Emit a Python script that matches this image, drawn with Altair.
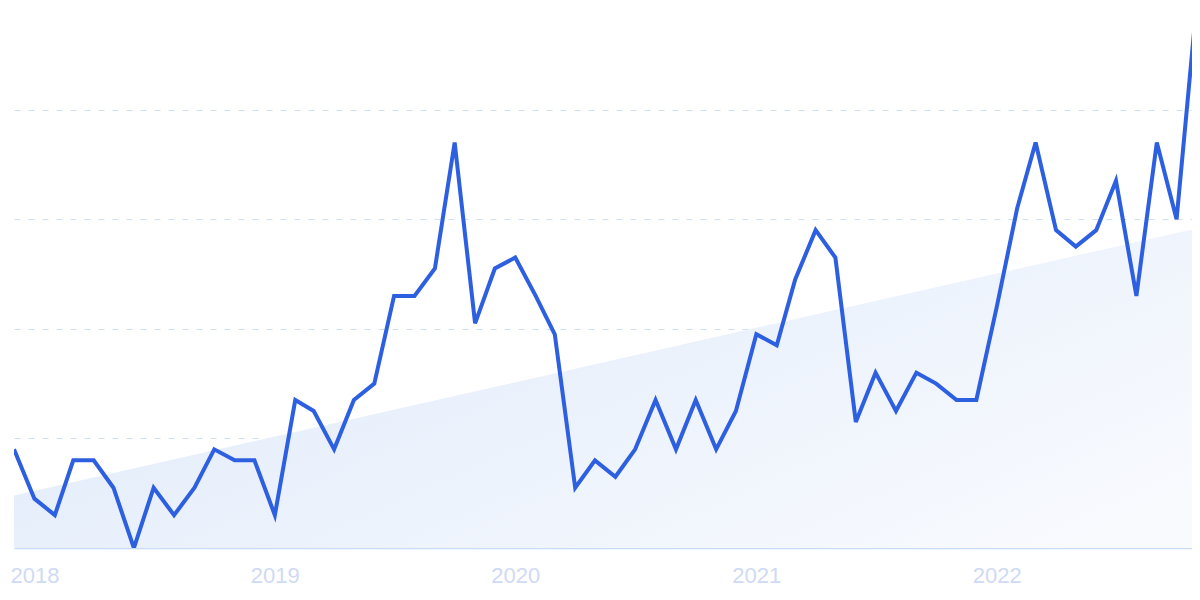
import altair as alt
import pandas as pd

# Monthly points, Dec 2017 .. Nov 2022
months = pd.date_range("2017-12-01", periods=60, freq="MS").strftime("%Y-%m-%d").tolist()
values = [18, 9, 6, 16, 16, 11, 0, 11, 6, 11, 18, 16,
          16, 6, 27, 25, 18, 27, 30, 46, 46, 51, 74, 41,
          51, 53, 46, 39, 11, 16, 13, 18, 27, 18, 27, 18,
          25, 39, 37, 49, 58, 53, 23, 32, 25, 32, 30, 27,
          27, 44, 62, 74, 58, 55, 58, 67, 46, 74, 60, 100]
year_labels = [2018, 2019, 2020, 2021, 2022]
grid_values = [20, 40, 60, 80]

ts = (pd.to_datetime(months).astype("int64") // 10**6).tolist()
df = pd.DataFrame({"t": ts, "value": values})
year_ticks = [int(pd.Timestamp(f"{y}-01-01").value // 10**6) for y in year_labels]

x_enc = alt.X(
    "t:T",
    scale=alt.Scale(type="utc", nice=False, domain=[ts[0], ts[-1]], range=[0, 1183]),
    axis=alt.Axis(
        values=year_ticks, format="%Y", title=None, grid=False, ticks=False,
        domainColor="#c6dcf8", domainWidth=1.5, labelColor="#cfdaf4",
        labelFont="Liberation Sans", labelFontSize=22, labelPadding=17,
        labelAlign="center", labelFlush=False,
    ),
)
y_scale = alt.Scale(domain=[0, 98.54], nice=False, zero=True)
y_axis = alt.Axis(
    values=grid_values, title=None, labels=False, ticks=False, domain=False,
    grid=True, gridDash=[6, 8], gridColor="#cde0f7", gridWidth=1,
)

base = alt.Chart(df)

trend = base.transform_regression("t", "value").mark_area(
    clip=True,
    color=alt.Gradient(
        gradient="linear",
        stops=[alt.GradientStop(color="#dfeafa", offset=0),
               alt.GradientStop(color="#f8fafe", offset=1)],
        x1=0, x2=1, y1=0.2, y2=0.8,
    ),
).encode(x=x_enc, y=alt.Y("value:Q", scale=y_scale, axis=y_axis))

line = base.mark_line(clip=True, color="#2d5fe1", strokeWidth=4).encode(
    x=x_enc, y=alt.Y("value:Q", scale=y_scale, axis=y_axis)
)

chart = alt.layer(trend, line).properties(
    width=1178, height=540,
    autosize=alt.AutoSizeParams(type="none"),
    padding={"left": 6, "top": 0, "right": 0, "bottom": 40},
).configure_view(stroke=None)

chart.save("out.html", embed_options={"renderer": "svg", "actions": False})
